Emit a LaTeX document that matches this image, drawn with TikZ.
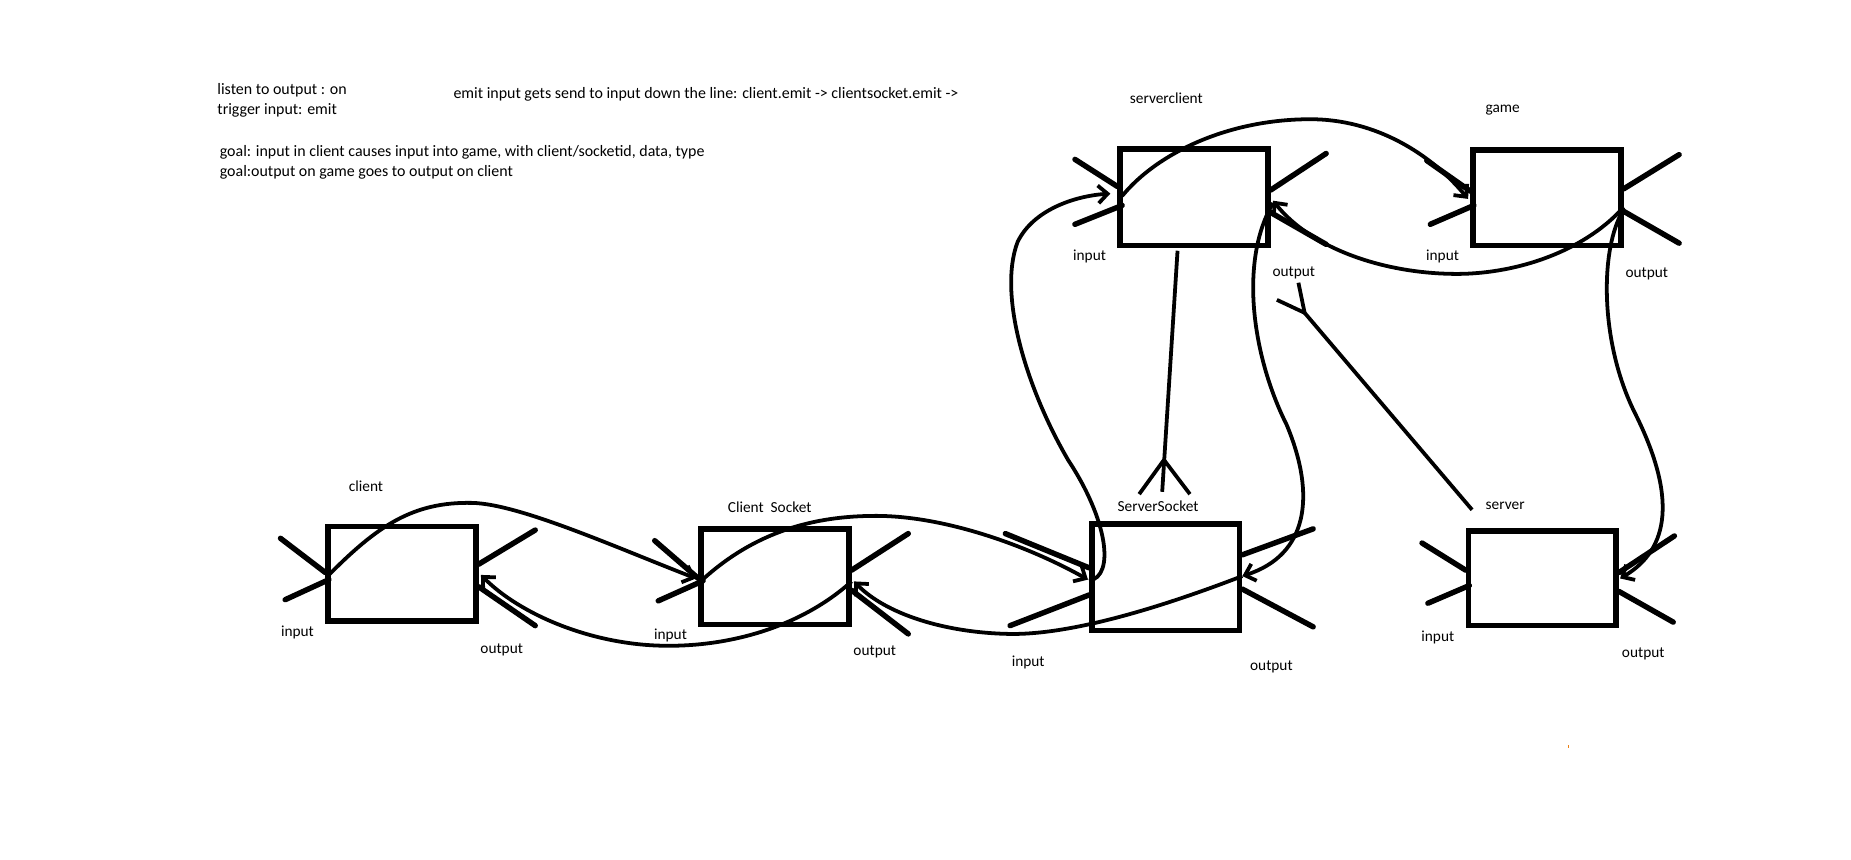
\documentclass[tikz,border=0pt]{standalone}
\usepackage{fontspec}
\setmainfont{Carlito}
\usetikzlibrary{arrows.meta,calc}
\begin{document}
\begin{tikzpicture}[x=1pt,y=-1pt,
  box/.style={draw,line width=4.8pt,minimum width=125pt,inner sep=0pt},
  xline/.style={line width=4.6pt,line cap=round},
  flow/.style={line width=3.2pt},
  arr/.style={flow,-{Straight Barb[length=8pt,width=15pt]}},
  lbl/.style={font=\fontsize{13}{15}\selectfont,inner sep=0pt,anchor=mid,yshift=-2pt},
  note/.style={font=\fontsize{13.5}{16}\selectfont,inner sep=0pt,anchor=mid west,yshift=-2pt}]
\useasboundingbox (0,0) rectangle (1568,727.7);
\fill[white] (0,0) rectangle (1568,727.7);

% notes
\node[note] (n1) at (184,76) {listen to output : on};
\node[note] (n2) at (184,93) {trigger input: emit};
\node[note] (n3) at (384,79) {emit input gets send to input down the line: client.emit -> clientsocket.emit ->};
\node[note] (n4) at (186,128) {goal: input in client causes input into game, with client/socketid, data, type};
\node[note] (n5) at (186,145) {goal:output on game goes to output on client};

% boxes
\node[box,minimum height=80pt] (cl) at (340.5,486) {};
\node[box,minimum height=81pt] (cs) at (656.5,488.5) {};
\node[box,minimum height=90pt] (ss) at (987.5,489) {};
\node[box,minimum height=82pt] (sc) at (1011.5,167) {};
\node[box,minimum height=81pt] (gm) at (1310.5,167.5) {};
\node[box,minimum height=80pt] (sv) at (1306.5,490) {};

% names
\node[lbl] (lcl) at (310,412) {client};
\node[lbl] (lcs) at (652,430) {Client~~Socket};
\node[lbl] (lss) at (981,429) {ServerSocket};
\node[lbl] (lsc) at (988,83) {serverclient};
\node[lbl] (lgm) at (1273,91) {game};
\node[lbl] (lsv) at (1275,427) {server};

% input / output labels
\node[lbl] (icl) at (252,535) {input};
\node[lbl] (ics) at (568,537) {input};
\node[lbl] (iss) at (871,560) {input};
\node[lbl] (isc) at (923,216) {input};
\node[lbl] (igm) at (1222,216) {input};
\node[lbl] (isv) at (1218,539) {input};
\node[lbl] (ocl) at (425,549) {output};
\node[lbl] (ocs) at (741,551) {output};
\node[lbl] (oss) at (1077,564) {output};
\node[lbl] (osc) at (1096,230) {output};
\node[lbl] (ogm) at (1395,231) {output};
\node[lbl] (osv) at (1392,553) {output};

% X marks (in / out ports)
\draw[xline] ($(cl.west)+(-38,-30)$) -- ($(cl.west)+(0,-1)$);
\draw[xline] ($(cl.west)+(-34,22)$) -- ($(cl.west)+(3,5)$);
\draw[xline] ($(cl.east)+(0,-8)$) -- ($(cl.east)+(48,-37)$);
\draw[xline] ($(cl.east)+(0,11)$) -- ($(cl.east)+(48,44)$);

\draw[xline] ($(cs.west)+(-37,-30.5)$) -- ($(cs.west)+(0,1.5)$);
\draw[xline] ($(cs.west)+(-34,20.5)$) -- ($(cs.west)+(4,3.5)$);
\draw[xline] ($(cs.east)+(0,-5.5)$) -- ($(cs.east)+(48,-36.5)$);
\draw[xline] ($(cs.east)+(0,11.5)$) -- ($(cs.east)+(48,48.5)$);

\draw[xline] ($(ss.west)+(-71,-37)$) -- ($(ss.west)+(0,-8)$);
\draw[xline] ($(ss.west)+(-67,41)$) -- ($(ss.west)+(0,15)$);
\draw[xline] ($(ss.east)+(0,-19)$) -- ($(ss.east)+(60,-41)$);
\draw[xline] ($(ss.east)+(0,10)$) -- ($(ss.east)+(60,42)$);

\draw[xline] ($(sc.west)+(-36,-32)$) -- ($(sc.west)+(0,-9)$);
\draw[xline] ($(sc.west)+(-36,23)$) -- ($(sc.west)+(4,7)$);
\draw[xline] ($(sc.east)+(0,-6)$) -- ($(sc.east)+(47,-37)$);
\draw[xline] ($(sc.east)+(0,13)$) -- ($(sc.east)+(47,40)$);

\draw[xline] ($(gm.west)+(-37,-31.5)$) -- ($(gm.west)+(0,-5.5)$);
\draw[xline] ($(gm.west)+(-34,22.5)$) -- ($(gm.west)+(3,6.5)$);
\draw[xline] ($(gm.east)+(0,-7.5)$) -- ($(gm.east)+(47,-36.5)$);
\draw[xline] ($(gm.east)+(0,11.5)$) -- ($(gm.east)+(47,38.5)$);

\draw[xline] ($(sv.west)+(-37,-30)$) -- ($(sv.west)+(0,-7)$);
\draw[xline] ($(sv.west)+(-32,21)$) -- ($(sv.west)+(3,6)$);
\draw[xline] ($(sv.east)+(0,-5)$) -- ($(sv.east)+(47,-36)$);
\draw[xline] ($(sv.east)+(0,11)$) -- ($(sv.east)+(46,37)$);

% flows
\draw[arr] ($(cl.west)+(2,2)$) .. controls (320,445) and (350,425) .. (400,426)
  .. controls (440,427) and (520,463) .. ($(cs.west)+(-2,1.5)$);
\draw[arr] ($(cs.east)+(0,4)$) .. controls (680,530) and (620,548) .. (562,547)
  .. controls (500,546) and (440,520) .. ($(cl.east)+(2,1)$);
\draw[arr] ($(cs.west)+(3,3)$) .. controls (640,450) and (690,437) .. (742,437)
  .. controls (800,437) and (870,462) .. ($(ss.west)+(-1,2)$);
\draw[arr] ($(sc.east)+(2,5)$) .. controls (1050,220) and (1060,300) .. (1090,360)
  .. controls (1115,420) and (1108,470) .. ($(ss.east)+(0,-1)$);
\draw[arr] ($(ss.east)+(0,-1)$) .. controls (990,512) and (910,538) .. (855,537)
  .. controls (800,536) and (750,520) .. ($(cs.east)+(2,4)$);
\draw[arr] ($(ss.west)+(0,3)$) .. controls (945,488) and (938,440) .. (905,390)
  .. controls (870,330) and (845,250) .. (862,205)
  .. controls (875,178) and (910,166) .. ($(sc.west)+(-6,-3)$);
\draw[arr] ($(sc.west)+(4,-1)$) .. controls (980,130) and (1040,101) .. (1110,101)
  .. controls (1165,101) and (1212,130) .. ($(gm.west)+(-2,1)$);
\draw[arr] ($(gm.east)+(0,8)$) .. controls (1340,215) and (1280,233) .. (1230,232)
  .. controls (1170,231) and (1110,210) .. ($(sc.east)+(2,3)$);
\draw[arr] ($(gm.east)+(0,10)$) .. controls (1355,210) and (1355,290) .. (1385,350)
  .. controls (1420,420) and (1415,465) .. ($(sv.east)+(1,0)$);

% serverclient -> ServerSocket with fork
\coordinate (fk1) at ($(ss.north)+(-1.5,-52)$);
\draw[flow] ($(sc.south)+(-14,2)$) -- ($(ss.north)+(-3,-25)$);
\draw[flow] (fk1) -- ($(ss.north)+(-22.5,-23)$);
\draw[flow] (fk1) -- ($(ss.north)+(20.5,-23)$);

% server -> serverclient output with fork
\coordinate (fk2) at ($(sc.east)+(28.75,98)$);
\draw[flow] ($(sv.north)+(-59.5,-15.75)$) -- (fk2);
\draw[flow] (fk2) -- ($(sc.east)+(5.25,87)$);
\draw[flow] (fk2) -- ($(sc.east)+(23.5,72.5)$);

% stray dot
\fill[orange!70!brown] (1328,631.5) rectangle (1329.3,634);
\end{tikzpicture}
\end{document}
